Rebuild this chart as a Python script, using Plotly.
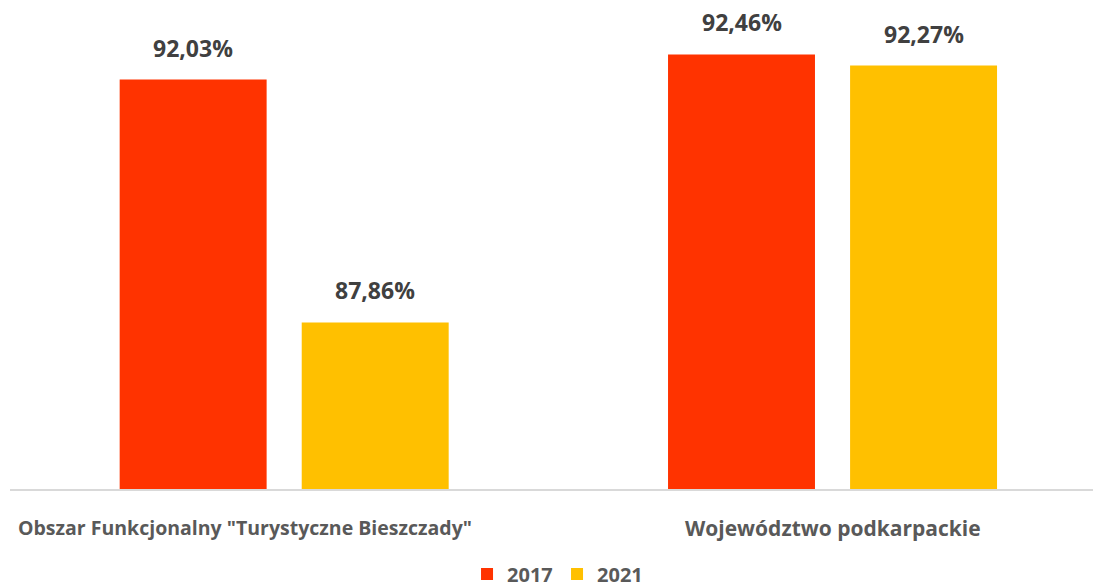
import plotly.graph_objects as go

categories = ['Obszar Funkcjonalny "Turystyczne Bieszczady"', "Województwo podkarpackie"]
years = ["2017", "2021"]
values_2017 = [92.03, 92.46]
values_2021 = [87.86, 92.27]
colors = ["#FF3300", "#FFC000"]

def fmt(v):
    return f"{v:.2f}".replace(".", ",") + "%"

bar_w = 0.268
offsets = [-0.3, 0.032]

fig = go.Figure()
xs = list(range(len(categories)))
for name, vals, col, off in zip(years, [values_2017, values_2021], colors, offsets):
    fig.add_trace(go.Bar(
        name=name, x=xs, y=vals, width=bar_w, offset=off,
        marker=dict(color=col, line=dict(width=0)),
    ))
    for xi, v in zip(xs, vals):
        fig.add_annotation(x=xi + off + bar_w / 2, y=v, xref="x", yref="y",
                           yanchor="bottom", yshift=14, text=fmt(v), showarrow=False,
                           font=dict(family="Open Sans", size=23, color="#404040", weight="bold"))

# category labels
shifts = [-39, 0]
sizes = [19.5, 21]
for i, (cat, s, fs) in enumerate(zip(categories, shifts, sizes)):
    fig.add_annotation(x=i, y=0, xref="x", yref="paper", yanchor="top",
                       yshift=-23, xshift=s, text=cat, showarrow=False,
                       font=dict(family="Open Sans", size=fs, color="#595959", weight="bold"))

fig.update_layout(
    width=1093, height=588,
    margin=dict(l=10, r=0, t=23, b=99),
    paper_bgcolor="white", plot_bgcolor="white",
    barmode="overlay",
    showlegend=True,
    legend=dict(orientation="h", x=0.422, xanchor="left", yref="container",
                y=1 - 574 / 588, yanchor="middle",
                font=dict(family="Open Sans", size=20, color="#595959", weight="bold"),
                itemwidth=30, traceorder="normal", entrywidth=45, entrywidthmode="pixels"),
    xaxis=dict(range=[-0.5, 1.475], showticklabels=False, showline=True,
               linecolor="#D9D9D9", linewidth=2, showgrid=False, zeroline=False, ticks=""),
    yaxis=dict(range=[85, 93], visible=False, showgrid=False, zeroline=False),
)

fig.write_html("out.html", config={"displayModeBar": False},
               post_script="document.body.style.margin='0px';")
